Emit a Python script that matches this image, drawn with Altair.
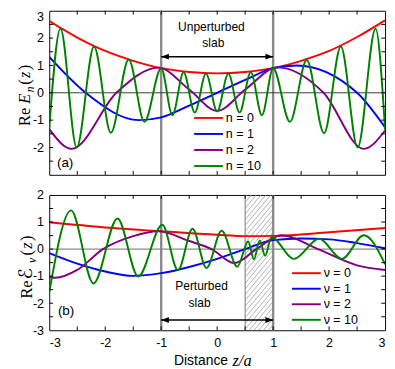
import altair as alt
import pandas as pd
import numpy as np

# ---------------- axes / categories ----------------
X_LABELS = [-3, -2, -1, 0, 1, 2, 3]
TOP_Y_LABELS = [-2, -1, 0, 1, 2, 3]
BOT_Y_LABELS = [-3, -2, -1, 0, 1, 2]
X_MINOR = [-2.5, -2, -1.5, -1, -0.5, 0, 0.5, 1, 1.5, 2, 2.5]
TOP_Y_MINOR = [-2.5, -2, -1.5, -1, -0.5, 0, 0.5, 1, 1.5, 2, 2.5]
BOT_Y_MINOR = [-2.5, -2, -1.5, -1, -0.5, 0, 0.5, 1, 1.5]
SLAB = [-1, 1]
PERTURBED = [0.5, 1]

TOP_LABELS = ["n = 0", "n = 1", "n = 2", "n = 10"]
BOT_LABELS = ["\u03bd = 0", "\u03bd = 1", "\u03bd = 2", "\u03bd = 10"]
COLORS = ["#ff0000", "#0000ff", "#800080", "#008000"]

# ---------------- panel (a) ----------------
TOP_N0_X = [-3, -2.5, -2, -1.5, -1, -0.5, 0, 0.5, 1, 1.5, 2, 2.5, 3]
TOP_N0_Y = [2.62, 2.02, 1.53, 1.17, 0.9, 0.76, 0.71, 0.76, 0.9, 1.17, 1.53, 2.04, 2.65]
TOP_N1_X = [-3, -2.35, -1.4, -1, -0.5, 0, 0.5, 1, 1.42, 2.5, 3]
TOP_N1_Y = [1.31, 0, -1.0, -0.9, -0.47, 0, 0.47, 0.9, 1.0, 0, -1.27]
TOP_N2_X = [-3, -2.6, -1.8, -1.05, -0.5, 0, 0.5, 1.08, 1.9, 2.62, 3]
TOP_N2_Y = [-1.33, -2.05, 0, 0.92, 0.12, -0.66, 0.12, 0.93, 0, -2.05, -1.38]
TOP_N10_X = [-3, -2.8, -2.51, -2.2, -1.9, -1.58, -1.3, -1.0, -0.8, -0.6, -0.4, -0.2, 0,
             0.2, 0.4, 0.6, 0.8, 1.0, 1.3, 1.6, 1.91, 2.21, 2.51, 2.83, 3]
TOP_N10_Y = [-1.3, 2.35, -2.0, 1.69, -1.46, 1.22, -1.06, 0.9, -0.82, 0.75, -0.72, 0.7, -0.68,
             0.7, -0.72, 0.75, -0.82, 0.9, -1.06, 1.2, -1.48, 1.69, -2.0, 2.34, -1.35]

# ---------------- panel (b) ----------------
BOT_V0_X = [-3, -2, -1, 0, 0.5, 1, 2, 3]
BOT_V0_Y = [0.99, 0.8, 0.66, 0.53, 0.48, 0.49, 0.62, 0.78]
BOT_V1_X = [-3, -2.5, -2, -1.5, -1, -0.5, 0, 0.5, 1, 1.5, 2, 2.5, 3]
BOT_V1_Y = [-0.15, -0.54, -0.83, -0.99, -0.89, -0.66, -0.36, 0.0, 0.33, 0.39, 0.36, 0.22, 0.03]
BOT_V2_X = [-3, -2.89, -2.5, -2.04, -1.5, -1.05, -0.5, -0.1, 0.31, 0.7, 1.15, 1.8, 2.5, 3]
BOT_V2_Y = [-1.04, -1.06, -0.77, 0, 0.48, 0.66, 0.3, 0, -0.52, 0, 0.51, 0, -0.6, -0.77]
BOT_V10_X = [-3, -2.61, -2.21, -1.78, -1.41, -0.98, -0.70, -0.44, -0.19, 0.08, 0.36, 0.555,
             0.657, 0.76, 0.857, 0.97, 1.37, 1.82, 2.23, 2.62, 3]
BOT_V10_Y = [-1.6, 1.43, -1.27, 1.13, -1.01, 0.9, -0.78, 0.75, -0.7, 0.68, -0.65, 0.28,
             -0.38, 0.32, -0.25, 0.44, -0.36, 0.38, -0.36, 0.51, -0.56]

W = 350
H_TOP = 171
H_BOT = 141
SANS = "Liberation Sans"
SERIF = "Liberation Serif"
GRAY = "#8a8a8a"

XS = alt.Scale(domain=[-3, 3], nice=False, zero=False)
YS_TOP = alt.Scale(domain=[-3, 3], nice=False, zero=False)
YS_BOT = alt.Scale(domain=[-3, 2], nice=False, zero=False)

AX_X_TOP = alt.Axis(labels=False, ticks=False, domain=False, grid=False, title=None)
AX_X_BOT = alt.Axis(values=X_LABELS, ticks=False, domain=False, grid=False, title=None,
                    labelPadding=7, labelFont=SANS, labelFontSize=13, labelColor="black",
                    labelExpr="'' + datum.value")
AX_Y_TOP = alt.Axis(values=TOP_Y_LABELS, ticks=False, domain=False, grid=False, title=None,
                    labelPadding=6, labelFont=SANS, labelFontSize=13, labelColor="black",
                    labelFlush=True, labelExpr="'' + datum.value")
AX_Y_BOT = alt.Axis(values=BOT_Y_LABELS, ticks=False, domain=False, grid=False, title=None,
                    labelPadding=6, labelFont=SANS, labelFontSize=13, labelColor="black",
                    labelExpr="'' + datum.value")


def panel(series, labels, ys, ax_x, ax_y, H, y_minor, zero_color, zero_w,
          arrow_y, texts, legend_pos, title_pieces, extra_layers):
    def X(f):
        return alt.X(f"{f}:Q", scale=XS, axis=ax_x)

    def Y(f):
        return alt.Y(f"{f}:Q", scale=ys, axis=ax_y)

    layers = list(extra_layers(X, Y))
    # slab edges
    layers.append(alt.Chart(pd.DataFrame({"x": SLAB})).mark_rule(
        color=GRAY, strokeWidth=2.5).encode(x=X("x")))
    # zero line
    layers.append(alt.Chart(pd.DataFrame({"y": [0]})).mark_rule(
        color=zero_color, strokeWidth=zero_w).encode(y=Y("y")))
    # curves
    for (xs, yv), col in zip(series, COLORS):
        df = pd.DataFrame({"x": xs, "y": yv})
        layers.append(alt.Chart(df).mark_line(
            interpolate="monotone", strokeWidth=2, clip=True, color=col
        ).encode(x=X("x"), y=Y("y")))
    # inward ticks
    tx = pd.DataFrame({"v": X_MINOR})
    ty = pd.DataFrame({"v": y_minor})
    layers.append(alt.Chart(tx).mark_rule(color="black", strokeWidth=1).encode(
        x=X("v"), y=alt.value(H), y2=alt.value(H - 4)))
    layers.append(alt.Chart(tx).mark_rule(color="black", strokeWidth=1).encode(
        x=X("v"), y=alt.value(0), y2=alt.value(4)))
    layers.append(alt.Chart(ty).mark_rule(color="black", strokeWidth=1).encode(
        y=Y("v"), x=alt.value(0), x2=alt.value(4)))
    layers.append(alt.Chart(ty).mark_rule(color="black", strokeWidth=1).encode(
        y=Y("v"), x=alt.value(W), x2=alt.value(W - 4)))
    # double arrow across slab
    adf = pd.DataFrame({"x": [SLAB[0]], "x2": [SLAB[1]], "y": [arrow_y]})
    layers.append(alt.Chart(adf).mark_rule(color="black", strokeWidth=1.5).encode(
        x=X("x"), x2=alt.X2("x2"), y=Y("y")))
    for xv, shp in [(SLAB[0], "M0,0L1,-0.38L1,0.38Z"), (SLAB[1], "M0,0L-1,-0.38L-1,0.38Z")]:
        layers.append(alt.Chart(pd.DataFrame({"x": [xv], "y": [arrow_y]})).mark_point(
            shape=shp, filled=True, size=256, color="black", opacity=1, strokeWidth=0
        ).encode(x=X("x"), y=Y("y")))
    # legend
    lx0, lx1, ltx, ly0, ldy = legend_pos
    for i, (lab, col) in enumerate(zip(labels, COLORS)):
        yy = ly0 + i * ldy
        layers.append(alt.Chart(pd.DataFrame({"a": [0]})).mark_rule(
            color=col, strokeWidth=2).encode(
            x=alt.value(lx0), x2=alt.value(lx1), y=alt.value(yy)))
        layers.append(alt.Chart(pd.DataFrame({"t": [lab]})).mark_text(
            align="left", baseline="middle", font=SANS, fontSize=13, color="black").encode(
            text="t:N", x=alt.value(ltx), y=alt.value(yy)))
    # free texts
    for (t, tx_, ty_, size, font, style, align) in texts:
        layers.append(alt.Chart(pd.DataFrame({"t": [t]})).mark_text(
            align=align, baseline="middle", font=font, fontSize=size, fontStyle=style,
            color="black").encode(text="t:N", x=alt.value(tx_), y=alt.value(ty_)))
    # y title pieces (rotated)
    for (t, style, size, bx, by, font) in title_pieces:
        layers.append(alt.Chart(pd.DataFrame({"t": [t]})).mark_text(
            align="left", baseline="alphabetic", angle=270, font=font, fontSize=size,
            fontStyle=style, color="black").encode(
            text="t:N", x=alt.value(bx), y=alt.value(by)))
    return alt.layer(*layers).properties(width=W, height=H)


def no_extra(X, Y):
    return []


def hatch(X, Y):
    k = 2.48       # slope of hatch lines in data units
    step = 0.213   # vertical spacing in data units
    x0, x1 = PERTURBED
    ylo, yhi = -3, 2
    rows = []
    for c in np.arange(ylo - k * (x1 - x0), yhi, step):
        xs = x0 if c >= ylo else x0 + (ylo - c) / k
        ys_ = max(c, ylo)
        ye_raw = c + k * (x1 - x0)
        xe = x1 if ye_raw <= yhi else x0 + (yhi - c) / k
        ye = min(ye_raw, yhi)
        if xe > xs:
            rows.append({"x": xs, "y": ys_, "x2": xe, "y2": ye})
    hdf = pd.DataFrame(rows)
    return [
        alt.Chart(hdf).mark_rule(color="#9a9a9a", strokeWidth=0.8).encode(
            x=X("x"), y=Y("y"), x2=alt.X2("x2"), y2=alt.Y2("y2")),
        alt.Chart(pd.DataFrame({"x": [PERTURBED[0]]})).mark_rule(
            color=GRAY, strokeWidth=1.2).encode(x=X("x")),
    ]


top_series = [(TOP_N0_X, TOP_N0_Y), (TOP_N1_X, TOP_N1_Y), (TOP_N2_X, TOP_N2_Y), (TOP_N10_X, TOP_N10_Y)]
bot_series = [(BOT_V0_X, BOT_V0_Y), (BOT_V1_X, BOT_V1_Y), (BOT_V2_X, BOT_V2_Y), (BOT_V10_X, BOT_V10_Y)]

top_texts = [
    ("Unperturbed", 169, 16.7, 12.5, SANS, "normal", "center"),
    ("slab", 171, 33.3, 12.5, SANS, "normal", "center"),
    ("(a)", 8, 158.5, 14, SANS, "normal", "left"),
]
bot_texts = [
    ("Perturbed", 158.7, 95, 12.5, SANS, "normal", "center"),
    ("slab", 156.7, 112.3, 12.5, SANS, "normal", "center"),
    ("(b)", 9, 121.5, 14, SANS, "normal", "left"),
    ("Distance", 130, 173, 14.5, SANS, "normal", "left"),
    ("z/a", 191, 173, 17, SERIF, "italic", "left"),
]

top_title = [
    ("Re", "normal", 17, -20, 120, SERIF),
    ("E", "italic", 17, -20, 97, SERIF),
    ("n", "italic", 12, -16, 85, SERIF),
    ("(", "normal", 17, -20, 77, SERIF),
    ("z", "italic", 17, -20, 70, SERIF),
    (")", "normal", 17, -20, 62, SERIF),
]
bot_title = [
    ("Re", "normal", 17, -18, 108, SERIF),
    ("\u2130", "normal", 20, -18, 88, "DejaVu Sans"),
    ("\u03bd", "italic", 12, -14, 71, SERIF),
    ("(", "normal", 17, -18, 63, SERIF),
    ("z", "italic", 17, -18, 56, SERIF),
    (")", "normal", 17, -18, 48, SERIF),
]

top = panel(top_series, TOP_LABELS, YS_TOP, AX_X_TOP, AX_Y_TOP, H_TOP, TOP_Y_MINOR,
            "#333333", 1, 1.32, top_texts, (151, 181, 184, 111.7, 16.7), top_title, no_extra)
bot = panel(bot_series, BOT_LABELS, YS_BOT, AX_X_BOT, AX_Y_BOT, H_BOT, BOT_Y_MINOR,
            GRAY, 1.5, -2.62, bot_texts, (253, 283, 286, 81.5, 16.2), bot_title, hatch)

chart = alt.vconcat(top, bot, spacing=21, bounds="flush").properties(
    padding={"left": 8, "top": -7, "right": 0, "bottom": 4}
).configure_view(stroke="black", strokeWidth=1)

chart.save("out.html", embed_options={"renderer": "svg", "actions": False})
